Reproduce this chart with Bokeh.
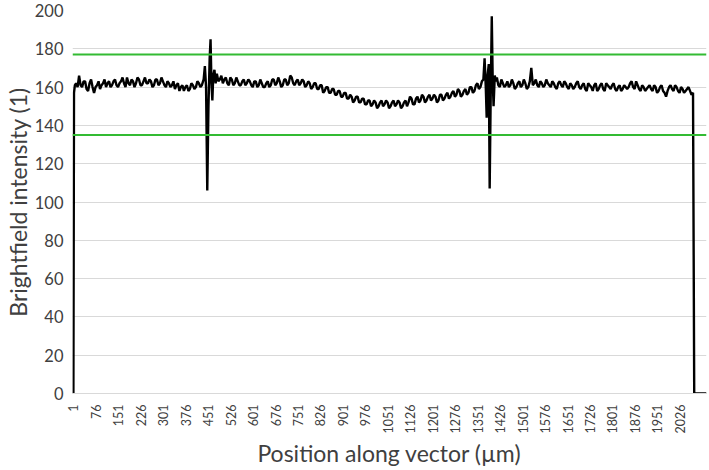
import math
from bokeh.plotting import figure
from bokeh.models import FixedTicker, Span, Range1d
from bokeh.embed import file_html
from bokeh.resources import INLINE

# ---- data ----
start_pos = [1, 3, 6]
start_val = [0, 157, 161]

# samples every 5 µm from 10 to 430
left_val = [
    162, 160, 166, 161, 160, 163, 163, 159, 158, 162, 164, 160, 157, 160, 161, 163, 159, 161, 162,
    164, 160, 162, 163, 160, 161, 163, 164, 161, 160, 162, 163, 165, 162, 160, 165, 162, 161, 164, 163,
    160, 162, 165, 164, 161, 161, 163, 165, 162, 162, 164, 163, 160, 161, 164, 164, 161, 162, 165, 163,
    161, 160, 163, 162, 160, 161, 163, 159, 161, 162, 158, 160, 161, 158, 160, 161, 158, 159, 162, 161,
    159, 160, 163, 162, 160, 161,
]
left_pos = list(range(10, 431, 5))

spike_a_pos = [436, 440, 444, 448, 452, 456, 459, 462, 465, 468, 472, 476, 480]
spike_a_val = [164, 171, 160, 106, 150, 175, 185, 162, 153, 166, 169, 162, 167]

# samples every 5 µm from 485 to 1370
middle_val = [
    163, 164, 166, 162, 164, 165, 162, 161, 165, 164, 161, 162, 165, 163, 161, 161, 163, 164, 161, 162,
    164, 163, 161, 160, 163, 163, 160, 161, 164, 162, 160, 160, 162, 163, 160, 161, 164, 164, 161, 162,
    165, 163, 160, 161, 164, 164, 161, 162, 166, 165, 162, 161, 163, 164, 161, 162, 164, 163, 160, 161,
    163, 162, 159, 160, 162, 162, 159, 159, 161, 161, 157, 158, 160, 160, 157, 157, 159, 159, 156, 156,
    158, 158, 155, 155, 157, 157, 154, 154, 156, 155, 152, 153, 155, 155, 152, 152, 154, 154, 151, 151,
    153, 153, 150, 151, 153, 152, 149, 150, 152, 153, 150, 151, 153, 152, 149, 150, 152, 153, 150, 151,
    153, 152, 149, 150, 152, 153, 150, 152, 155, 154, 151, 151, 154, 155, 152, 153, 156, 155, 152, 153,
    155, 156, 153, 154, 156, 155, 152, 153, 156, 156, 153, 154, 156, 157, 154, 155, 157, 158, 155, 156,
    159, 158, 155, 156, 158, 159, 156, 157, 160, 160, 157, 158, 161, 162, 159, 160, 163, 164,
]
middle_pos = list(range(485, 1371, 5))

spike_b_pos = [1374, 1378, 1381, 1384, 1388, 1391, 1394, 1398, 1401, 1404, 1408, 1412]
spike_b_val = [175, 160, 144, 166, 172, 107, 150, 197, 165, 150, 166, 163]

# samples every 5 µm from 1415 to 2070
right_val = [
    165, 161, 160, 164, 162, 160, 161, 163, 160, 161, 164, 162, 159, 160, 162, 163, 160, 161, 164, 162,
    159, 160, 163, 170, 161, 162, 164, 161, 160, 163, 162, 160, 161, 164, 162, 161, 160, 163, 162, 160,
    159, 162, 163, 161, 160, 163, 162, 160, 159, 162, 161, 159, 160, 162, 163, 160, 159, 161, 162, 159,
    158, 162, 161, 160, 158, 161, 162, 158, 159, 161, 162, 159, 158, 162, 161, 160, 159, 161, 162, 159,
    158, 160, 161, 158, 159, 161, 160, 159, 160, 162, 163, 160, 159, 163, 161, 159, 158, 161, 160, 158,
    159, 160, 161, 159, 158, 161, 160, 157, 158, 160, 161, 158, 157, 155, 158, 160, 161, 159, 158, 161,
    160, 158, 157, 160, 159, 157, 158, 159, 160, 158, 156, 157,
]
right_pos = list(range(1415, 2071, 5))

end_pos = [2074, 2115]
end_val = [0, 0]

assert len(left_pos) == len(left_val)
assert len(middle_pos) == len(middle_val)
assert len(right_pos) == len(right_val)

positions = start_pos + left_pos + spike_a_pos + middle_pos + spike_b_pos + right_pos + end_pos
intensity = start_val + left_val + spike_a_val + middle_val + spike_b_val + right_val + end_val

x_ticks = [1, 76, 151, 226, 301, 376, 451, 526, 601, 676, 751, 826, 901, 976,
           1051, 1126, 1201, 1276, 1351, 1426, 1501, 1576, 1651, 1726, 1801,
           1876, 1951, 2026]
y_ticks = [0, 20, 40, 60, 80, 100, 120, 140, 160, 180, 200]
upper_limit = 177
lower_limit = 135

FONT = "Lato"
TXT = "#404040"

p = figure(width=709, height=470, output_backend="svg", toolbar_location=None,
           x_range=Range1d(-2, 2115), y_range=Range1d(0, 200),
           min_border_left=70, min_border_right=3, min_border_top=10,
           min_border_bottom=77)
p.outline_line_color = None
p.background_fill_color = "white"
p.border_fill_color = "white"

p.line(positions, intensity, line_color="black", line_width=2.4)

for v in (upper_limit, lower_limit):
    p.add_layout(Span(location=v, dimension="width", line_color="#33bb33",
                      line_width=2))

# x axis
xa = p.xaxis[0]
xa.ticker = FixedTicker(ticks=x_ticks)
xa.major_label_orientation = math.pi / 2
xa.major_tick_line_color = None
xa.major_tick_out = 0
xa.major_tick_in = 0
xa.minor_tick_line_color = None
xa.minor_tick_out = 0
xa.minor_tick_in = 0
xa.axis_line_color = "#d9d9d9"
xa.major_label_text_font = FONT
xa.major_label_text_font_size = "12.5px"
xa.major_label_text_color = TXT
xa.major_label_standoff = 11
xa.axis_label = "Position along vector (µm)"
xa.axis_label_text_font = FONT
xa.axis_label_text_font_size = "23px"
xa.axis_label_text_font_style = "normal"
xa.axis_label_text_color = TXT
xa.axis_label_standoff = 3

# y axis
ya = p.yaxis[0]
ya.ticker = FixedTicker(ticks=y_ticks)
ya.major_tick_line_color = None
ya.major_tick_out = 0
ya.major_tick_in = 0
ya.minor_tick_line_color = None
ya.minor_tick_out = 0
ya.minor_tick_in = 0
ya.axis_line_color = None
ya.major_label_text_font = FONT
ya.major_label_text_font_size = "16.5px"
ya.major_label_text_color = TXT
ya.major_label_standoff = 9
ya.axis_label = "Brightfield intensity (1)"
ya.axis_label_text_font = FONT
ya.axis_label_text_font_size = "23px"
ya.axis_label_text_font_style = "normal"
ya.axis_label_text_color = TXT
ya.axis_label_standoff = 0

p.xgrid.grid_line_color = None
p.ygrid.grid_line_color = "#d9d9d9"
p.ygrid.grid_line_width = 1

open("out.html", "w").write(file_html(p, INLINE))
